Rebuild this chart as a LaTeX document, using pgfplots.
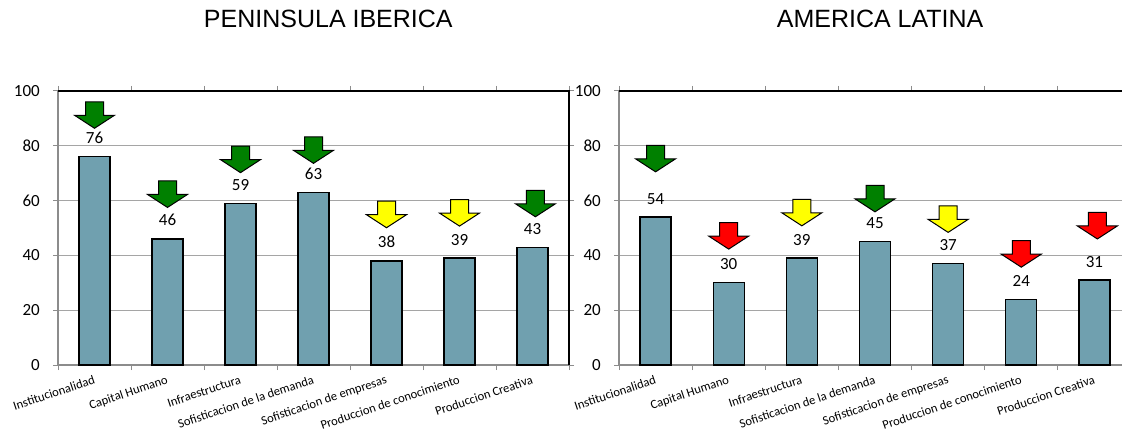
\documentclass[border=0pt]{standalone}
\usepackage{pgfplots}
\pgfplotsset{compat=1.18}
\usepackage{fontspec}
\setmainfont{Carlito}
\newfontfamily\titlefont{Liberation Sans}

\definecolor{barfill}{RGB}{112,160,175}
\definecolor{gridgray}{RGB}{165,165,165}
\definecolor{axisgray}{RGB}{140,140,140}
\definecolor{upgreen}{RGB}{0,128,0}
\definecolor{midyellow}{RGB}{255,255,0}
\definecolor{lowred}{RGB}{255,0,0}

% block arrow pointing down, tip at the data point
\pgfdeclareplotmark{blockarrow}{%
  \pgfpathmoveto{\pgfqpoint{0pt}{0pt}}%
  \pgfpathlineto{\pgfqpoint{-20pt}{13pt}}%
  \pgfpathlineto{\pgfqpoint{-9pt}{13pt}}%
  \pgfpathlineto{\pgfqpoint{-9pt}{26.5pt}}%
  \pgfpathlineto{\pgfqpoint{9pt}{26.5pt}}%
  \pgfpathlineto{\pgfqpoint{9pt}{13pt}}%
  \pgfpathlineto{\pgfqpoint{20pt}{13pt}}%
  \pgfpathclose
  \pgfusepathqfillstroke
}

\pgfplotsset{
  /pgf/number format/assume math mode=true,
  panel/.style={
    scale only axis, height=274pt,
    xmin=-0.5, xmax=6.5, ymin=0, ymax=100,
    ytick={0,20,...,100},
    xtick={0,...,6},
    xticklabels={Institucionalidad, Capital Humano, Infraestructura,
      Sofisticacion de la demanda, Sofisticacion de empresas,
      Produccion de conocimiento, Produccion Creativa},
    minor xtick={-0.5,0.5,...,6.5},
    major x tick style={draw=none},
    tick align=outside,
    major tick length=5pt, minor tick length=5pt,
    tick style={axisgray, line width=1pt},
    ymajorgrids, grid style={gridgray, line width=1.2pt},
    axis line style={axisgray, line width=1.3pt},
    yticklabel style={font=\fontsize{17}{17}\selectfont, inner sep=0pt, xshift=-13pt},
    xticklabel style={font=\fontsize{12.6}{14}\selectfont, rotate=18.5,
      anchor=north east, inner sep=0pt, yshift=-4pt, xshift=-3pt},
    title style={font=\titlefont\fontsize{25}{25}\selectfont, anchor=base,
      inner sep=0pt},
    clip=false,
  },
  databars/.style={
    ybar, bar width=31pt, fill=barfill, draw=black, line width=1.3pt,
    nodes near coords,
    every node near coord/.append style={font=\fontsize{17}{17}\selectfont,
      anchor=base, yshift=13pt, inner sep=0pt, text=black},
  },
  arrowmark/.style={only marks, mark=blockarrow,
    mark options={fill=#1, draw=black, line width=1pt}},
}

\begin{document}
\begin{tikzpicture}
\path[use as bounding box] (0,0) rectangle (1122pt,431pt);
\clip (0,0) rectangle (1122pt,431pt);

% ---- Peninsula Iberica ----
\begin{axis}[panel, width=511pt, at={(58pt,66pt)}, anchor=south west,
  title={PENINSULA IBERICA},
  title style={at={(axis description cs:0.529,1)}, yshift=57pt}]
  \addplot[databars] coordinates {(0,76) (1,46) (2,59) (3,63) (4,38) (5,39) (6,43)};
  \addplot[arrowmark=upgreen] coordinates {(0,86.4) (1,57.5) (2,70.2) (3,73.6) (6.04,54.1)};
  \addplot[arrowmark=midyellow] coordinates {(4,50.1) (5,50.7)};
  \draw[black, line width=1.3pt] (rel axis cs:0,1) -- (rel axis cs:1,1) -- (rel axis cs:1,0);
\end{axis}

% ---- America Latina ----
\begin{axis}[panel, width=512pt, at={(619pt,66pt)}, anchor=south west,
  title={AMERICA LATINA},
  title style={at={(axis description cs:0.51,1)}, yshift=57pt}]
  \addplot[databars] coordinates {(0,54) (1,30) (2,39) (3,45) (4,37) (5,24) (6,31)};
  \addplot[arrowmark=upgreen] coordinates {(0,70.5) (3,55.9)};
  \addplot[arrowmark=midyellow] coordinates {(2,50.8) (4,48.4)};
  \addplot[arrowmark=lowred] coordinates {(1,42.3) (5,35.7) (6.04,46.0)};
  \draw[black, line width=1.3pt] (rel axis cs:0,1) -- (rel axis cs:1,1) -- (rel axis cs:1,0);
\end{axis}
\end{tikzpicture}
\end{document}
